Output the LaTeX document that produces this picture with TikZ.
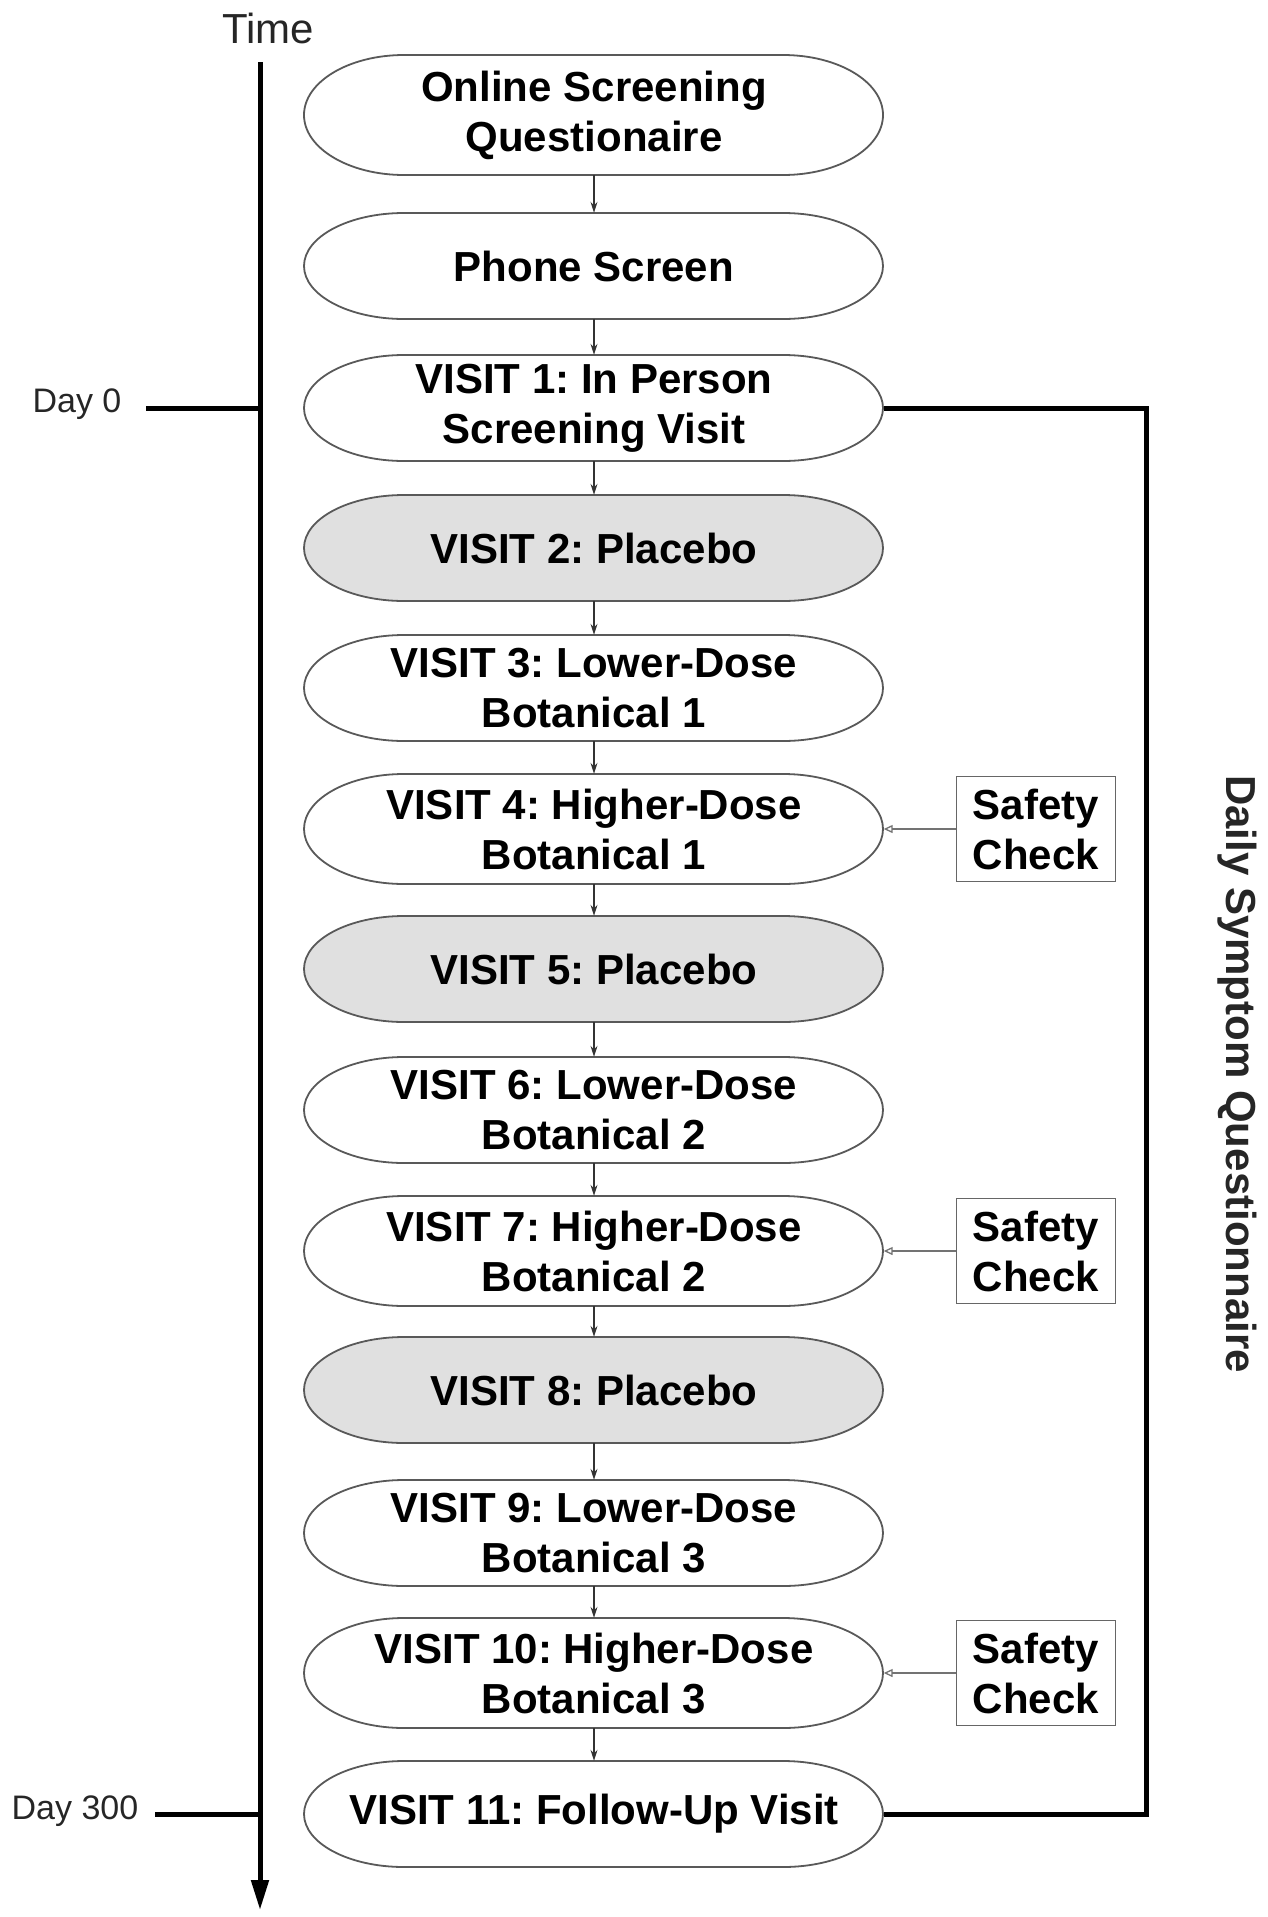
\documentclass[tikz,border=0pt]{standalone}
\usepackage{fontspec}
\setmainfont{Liberation Sans}
\frenchspacing
\usetikzlibrary{arrows.meta}
\newcommand\stagebox[5]{%
  \path[draw=black!65, line width=1.8pt, fill=#4]
    (404,#2-#3) -- (783,#2-#3)
    arc[start angle=90, end angle=-90, x radius=100pt, y radius=#3pt]
    -- (404,#2+#3)
    arc[start angle=270, end angle=90, x radius=100pt, y radius=#3pt]
    -- cycle;
  \node[stagetext, minimum height=2*#3pt] (#1) at (594,#2) {#5};}
\begin{document}
\begin{tikzpicture}[x=1pt,y=-1pt,
  stagetext/.style={rectangle, minimum width=579pt, align=center, font=\fontsize{42}{50}\selectfont\bfseries, inner sep=0pt},
  flow/.style={-{Stealth[length=11pt,width=7pt]}, line width=1.3pt, draw=black!80},
  checkbox/.style={draw=black!60, line width=1.5pt, minimum width=159pt, minimum height=105pt, align=center, font=\fontsize{42}{50}\selectfont\bfseries, inner sep=0pt},
  checkarrow/.style={-{Triangle[open,length=9pt,width=8pt]}, line width=1.3pt, draw=black!55},
  thick line/.style={line width=5pt, draw=black},
  daylabel/.style={font=\fontsize{34}{40}\selectfont, text=black!85, inner sep=0pt}
]
\useasboundingbox (0,0) rectangle (1267,1917);

% stages
\stagebox{online}{115}{60}{white}{Online Screening\\Questionaire}
\stagebox{phone}{266}{53}{white}{Phone Screen}
\stagebox{v1}{408}{53}{white}{VISIT 1: In Person\\Screening Visit}
\stagebox{v2}{548}{53}{black!12}{VISIT 2: Placebo}
\stagebox{v3}{688}{53}{white}{VISIT 3: Lower-Dose\\Botanical 1}
\stagebox{v4}{829}{55}{white}{VISIT 4: Higher-Dose\\Botanical 1}
\stagebox{v5}{969}{53}{black!12}{VISIT 5: Placebo}
\stagebox{v6}{1110}{53}{white}{VISIT 6: Lower-Dose\\Botanical 2}
\stagebox{v7}{1251}{55}{white}{VISIT 7: Higher-Dose\\Botanical 2}
\stagebox{v8}{1390}{53}{black!12}{VISIT 8: Placebo}
\stagebox{v9}{1533}{53}{white}{VISIT 9: Lower-Dose\\Botanical 3}
\stagebox{v10}{1673}{55}{white}{VISIT 10: Higher-Dose\\Botanical 3}
\stagebox{v11}{1814}{53}{white}{VISIT 11: Follow-Up Visit}

% flow arrows
\foreach \a/\b in {online/phone, phone/v1, v1/v2, v2/v3, v3/v4, v4/v5, v5/v6, v6/v7, v7/v8, v8/v9, v9/v10, v10/v11}
  \draw[flow] (\a.south) -- (\b.north);

% safety checks
\node[checkbox] (sc4) at (1036,829) {Safety\\Check};
\node[checkbox] (sc7) at (1036,1251) {Safety\\Check};
\node[checkbox] (sc10) at (1036,1673) {Safety\\Check};
\draw[checkarrow] (sc4.west) -- (v4.east);
\draw[checkarrow] (sc7.west) -- (v7.east);
\draw[checkarrow] (sc10.west) -- (v10.east);

% time axis
\node[font=\fontsize{42}{48}\selectfont, text=black!85, inner sep=0pt] (time) at (268,28) {Time};
\coordinate (axtop) at (260,62);
\coordinate (axbot) at (260,1910);
\draw[line width=5pt, -{Triangle[length=30pt,width=17pt]}] (axtop) -- (axbot);

\node[daylabel] (day0) at (77,404) {Day 0};
\node[daylabel] (day300) at (75,1811) {Day 300};
\coordinate (t0a) at (146,408);
\coordinate (t0b) at (260,408);
\coordinate (t3a) at (155,1814);
\coordinate (t3b) at (260,1814);
\draw[thick line] (t0a) -- (t0b);
\draw[thick line] (t3a) -- (t3b);

% daily symptom bracket
\coordinate (br) at (1146,408);
\draw[thick line] (v1.east) -- (br) |- (v11.east);
\node[rotate=-90, font=\fontsize{42}{48}\selectfont\bfseries, text=black!85, inner sep=0pt] (dsq) at (1237,1074) {Daily Symptom Questionnaire};
\end{tikzpicture}
\end{document}
